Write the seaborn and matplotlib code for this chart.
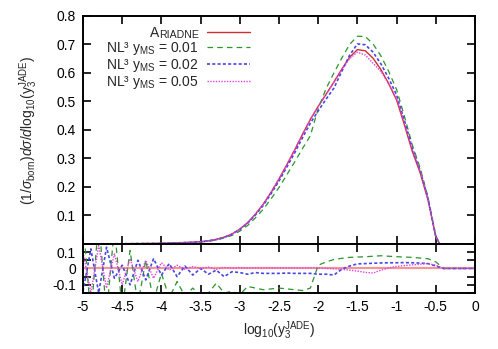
import matplotlib
matplotlib.use("Agg")
import matplotlib.pyplot as plt
from matplotlib.ticker import MultipleLocator
import seaborn as sns

# main panel: normalised distribution vs log10(y3)
x_main = [-5.0, -4.5, -4.0, -3.8, -3.6, -3.5, -3.4, -3.3, -3.2, -3.1,
          -3.0, -2.9, -2.8, -2.7, -2.6, -2.5, -2.4, -2.3, -2.2, -2.1,
          -2.0, -1.9, -1.8, -1.7, -1.6, -1.5, -1.4, -1.3, -1.2, -1.1,
          -1.0, -0.9, -0.8, -0.7, -0.6, -0.5, -0.45]
ariadne = [0.000, 0.001, 0.002, 0.004, 0.006, 0.008, 0.011, 0.016, 0.024, 0.035,
           0.052, 0.075, 0.105, 0.140, 0.182, 0.228, 0.278, 0.330, 0.385, 0.437,
           0.483, 0.525, 0.568, 0.613, 0.655, 0.682, 0.678, 0.652, 0.612, 0.562,
           0.505, 0.418, 0.325, 0.250, 0.155, 0.025, 0.000]
nl3_001 = [0.000, 0.001, 0.002, 0.0035, 0.005, 0.007, 0.0095, 0.014, 0.021, 0.030,
           0.045, 0.065, 0.092, 0.122, 0.159, 0.198, 0.243, 0.288, 0.335, 0.380,
           0.475, 0.545, 0.600, 0.652, 0.700, 0.729, 0.728, 0.702, 0.660, 0.605,
           0.542, 0.448, 0.348, 0.267, 0.165, 0.027, 0.000]
nl3_002 = [0.000, 0.001, 0.002, 0.004, 0.006, 0.008, 0.011, 0.0155, 0.023, 0.034,
           0.051, 0.073, 0.102, 0.136, 0.177, 0.221, 0.270, 0.320, 0.373, 0.424,
           0.467, 0.508, 0.547, 0.605, 0.662, 0.702, 0.699, 0.673, 0.632, 0.581,
           0.523, 0.433, 0.337, 0.258, 0.160, 0.026, 0.000]
nl3_005 = [0.000, 0.001, 0.002, 0.004, 0.006, 0.008, 0.011, 0.016, 0.024, 0.035,
           0.052, 0.075, 0.105, 0.140, 0.182, 0.228, 0.278, 0.330, 0.385, 0.437,
           0.483, 0.525, 0.568, 0.612, 0.650, 0.673, 0.663, 0.634, 0.605, 0.562,
           0.511, 0.425, 0.332, 0.257, 0.160, 0.026, 0.000]

# lower panel: relative deviation from Ariadne
x_ratio = [-5.0, -4.9, -4.8, -4.7, -4.6, -4.5, -4.4, -4.3, -4.2, -4.1,
           -4.0, -3.9, -3.8, -3.7, -3.6, -3.5, -3.4, -3.3, -3.2, -3.1,
           -3.0, -2.9, -2.8, -2.7, -2.6, -2.5, -2.4, -2.3, -2.2, -2.1,
           -2.0, -1.9, -1.8, -1.7, -1.6, -1.5, -1.4, -1.3, -1.2, -1.1,
           -1.0, -0.9, -0.8, -0.7, -0.6, -0.5, -0.4, -0.3, -0.2, -0.1, 0.0]
ratio_001 = [0.30, -0.30, 0.30, -0.28, 0.25, -0.25, 0.11, -0.22, 0.05, -0.20,
             -0.03, -0.18, -0.08, -0.17, -0.12, -0.17, -0.15, -0.09, -0.15, -0.14,
             -0.16, -0.11, -0.12, -0.13, -0.125, -0.12, -0.125, -0.13, -0.135, -0.12,
             0.02, 0.04, 0.055, 0.062, 0.068, 0.07, 0.072, 0.075, 0.078, 0.075,
             0.072, 0.07, 0.068, 0.064, 0.06, 0.04, 0.0, 0.0, 0.0, 0.0, 0.0]
ratio_002 = [-0.14, 0.12, -0.15, 0.13, -0.06, 0.02, -0.10, 0.05, -0.07, 0.06,
             -0.04, 0.03, -0.05, 0.015, -0.04, 0.0, -0.035, -0.01, -0.05, -0.02,
             -0.025, -0.035, -0.025, -0.03, -0.03, -0.03, -0.028, -0.03, -0.03, -0.03,
             -0.035, -0.035, -0.04, -0.005, 0.015, 0.028, 0.03, 0.032, 0.034, 0.035,
             0.035, 0.036, 0.035, 0.033, 0.03, 0.015, 0.0, 0.0, 0.0, 0.0, 0.0]
ratio_005 = [0.10, -0.15, 0.14, -0.12, 0.09, -0.10, 0.06, -0.08, 0.05, -0.06,
             0.035, -0.01, 0.02, -0.005, 0.012, 0.0, 0.008, -0.004, 0.006, 0.002,
             0.005, 0.003, 0.004, 0.003, 0.004, 0.003, 0.004, 0.003, 0.003, 0.004,
             0.003, 0.001, -0.002, -0.005, -0.01, -0.016, -0.024, -0.028, -0.01, 0.003,
             0.013, 0.018, 0.022, 0.026, 0.03, 0.02, 0.0, 0.0, 0.0, 0.0, 0.0]
ratio_ariadne = [0.0] * len(x_ratio)

labels = ["ARIADNE",
          "NL\u00b3 y$_{\\rm MS}$ = 0.01",
          "NL\u00b3 y$_{\\rm MS}$ = 0.02",
          "NL\u00b3 y$_{\\rm MS}$ = 0.05"]
colors = ["#d03030", "#2a962a", "#4848e0", "#e040e0"]
styles = ["-", (0, (4, 3)), (0, (2.2, 1.6)), (0, (1, 1))]
widths = [1.0, 0.9, 1.2, 1.0]

sns.set_style("ticks")
plt.rcParams["font.family"] = ["Liberation Sans", "DejaVu Sans"]
plt.rcParams["mathtext.fontset"] = "custom"
plt.rcParams["mathtext.rm"] = "Liberation Sans"
plt.rcParams["mathtext.it"] = "Liberation Sans:italic"
plt.rcParams["mathtext.sf"] = "Liberation Sans"
plt.rcParams["axes.unicode_minus"] = False
plt.rcParams["lines.scale_dashes"] = False

fig = plt.figure(figsize=(4.98, 3.49), dpi=100)
ax1 = fig.add_axes([0.1667, 0.3009, 0.7871, 0.6533])
ax2 = fig.add_axes([0.1667, 0.1605, 0.7871, 0.1404])

main_series = [ariadne, nl3_001, nl3_002, nl3_005]
ratio_series = [ratio_ariadne, ratio_001, ratio_002, ratio_005]

for ys, lab, c, ls, lw in zip(main_series, labels, colors, styles, widths):
    sns.lineplot(x=x_main, y=ys, ax=ax1, color=c, linestyle=ls, lw=lw, label=lab)

sns.lineplot(x=x_ratio, y=ratio_ariadne, ax=ax2, color="#f09898", lw=1.6)
for ys, c, ls, lw in zip(ratio_series[1:], colors[1:], styles[1:], widths[1:]):
    sns.lineplot(x=x_ratio, y=ys, ax=ax2, color=c, linestyle=ls, lw=lw)

for ax in (ax1, ax2):
    ax.set_xlim(-5, 0)
    ax.xaxis.set_major_locator(MultipleLocator(0.5))
    for sp in ax.spines.values():
        sp.set_visible(True)
        sp.set_linewidth(1.4)
        sp.set_color("black")
    ax.tick_params(which="both", direction="in", top=True, right=True,
                   width=1.2, colors="black", labelsize=10, pad=5)
    ax.tick_params(which="major", length=6)
    ax.tick_params(which="minor", length=6)

ax1.set_ylim(0, 0.8)
ax1.set_yticks([0.1, 0.2, 0.3, 0.4, 0.5, 0.6, 0.7, 0.8])
ax1.tick_params(labelbottom=False)
ax1.set_xlabel("")
ax1.set_ylabel(r"(1/$\sigma_{\rm born}$)$d\sigma/d$log$_{10}$(y$_3^{\rm JADE}$)",
               fontsize=10, labelpad=12)

ax2.set_ylim(-0.15, 0.15)
ax2.set_yticks([-0.1, 0, 0.1])
ax2.set_yticklabels(["-0.1", "0", "0.1"])
ax2.yaxis.set_minor_locator(MultipleLocator(0.05))
ax2.set_xticks([-5, -4.5, -4, -3.5, -3, -2.5, -2, -1.5, -1, -0.5, 0])
ax2.set_xticklabels(["-5", "-4.5", "-4", "-3.5", "-3", "-2.5", "-2", "-1.5", "-1", "-0.5", "0"])
ax2.set_xlabel(r"log$_{10}$(y$_3^{\rm JADE}$)", fontsize=10, labelpad=4)
ax2.set_ylabel("")

handles, labs = ax1.get_legend_handles_labels()
leg = ax1.legend(handles, labs, loc="upper right", bbox_to_anchor=(0.426, 0.955),
                 frameon=False, markerfirst=False, fontsize=10,
                 handlelength=3.1, handletextpad=0.6, labelspacing=0.0,
                 borderaxespad=0, borderpad=0)

# small caps for the Ariadne label: the legend keeps a blank slot,
# the two parts are drawn after the legend so its layout is known
t0 = leg.get_texts()[0]
t0.set_text(" ")
small = ax1.annotate("RIADNE", xy=(0, 0), xycoords=t0, ha="right", va="bottom",
                     fontsize=7.6, xytext=(2.8, 0.4), textcoords="offset points",
                     zorder=10)
ax1.annotate("A", xy=(0, 0), xycoords=small, ha="right", va="bottom",
             fontsize=10, xytext=(0, -0.4), textcoords="offset points",
             zorder=11)

fig.savefig("out.png", dpi=100)
